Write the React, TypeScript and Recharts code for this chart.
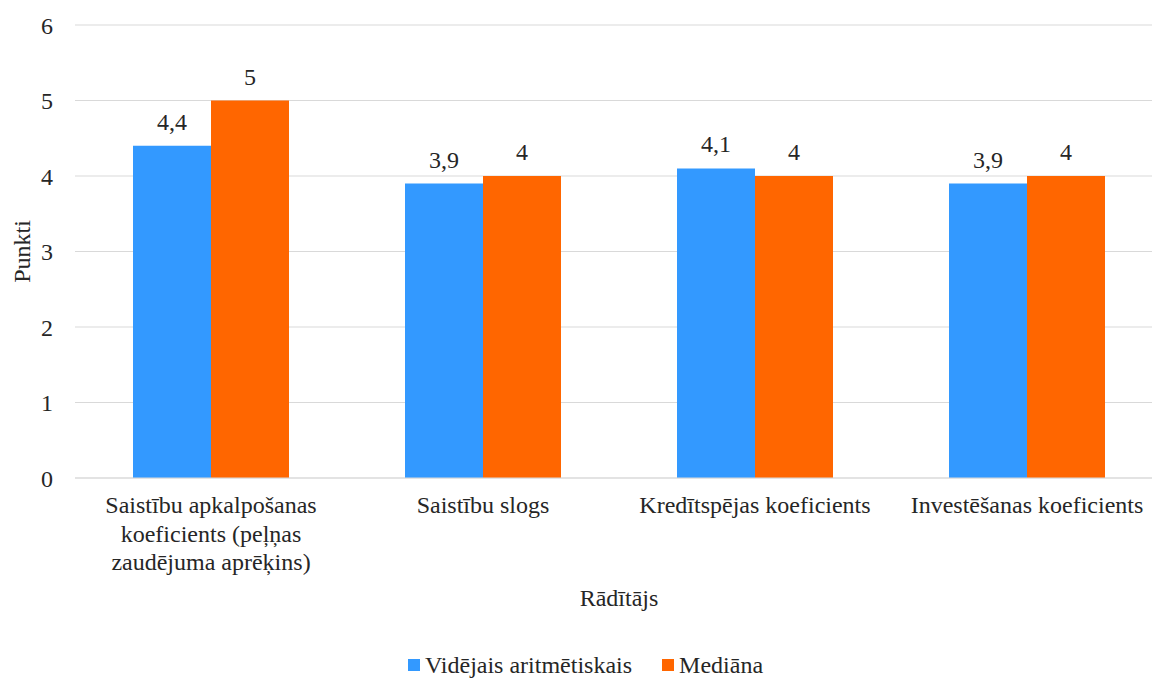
import React from "react";
import { BarChart, Bar, XAxis, YAxis, CartesianGrid, Legend, LabelList, Label } from "recharts";

const categories = [
  "Saistību apkalpošanas koeficients (peļņas zaudējuma aprēķins)",
  "Saistību slogs",
  "Kredītspējas koeficients",
  "Investēšanas koeficients",
];
// Wrapped lines for each category label on the axis
const categoryLines = [
  ["Saistību apkalpošanas", "koeficients (peļņas", "zaudējuma aprēķins)"],
  ["Saistību slogs"],
  ["Kredītspējas koeficients"],
  ["Investēšanas koeficients"],
];
const meanValues = [4.4, 3.9, 4.1, 3.9];
const medianValues = [5, 4, 4, 4];
const yTicks = [0, 1, 2, 3, 4, 5, 6];

const SERIES = [
  { key: "mean", name: "Vidējais aritmētiskais", color: "#3399FF" },
  { key: "median", name: "Mediāna", color: "#FF6600" },
];

const data = categories.map((c, i) => ({ category: c, mean: meanValues[i], median: medianValues[i] }));

const FONT = "'Liberation Serif', 'Times New Roman', Tinos, serif";
const FS = 24;
const TEXT = "#262626";

const fmt = (v: any) => String(v).replace(".", ",");

const CategoryTick = (props: any) => {
  const { x, y, payload, index } = props;
  const idx = categories.indexOf(payload.value);
  const lines = categoryLines[idx >= 0 ? idx : index] || [payload.value];
  return (
    <text x={x} y={y + 27} textAnchor="middle" fill={TEXT} fontFamily={FONT} fontSize={FS}>
      {lines.map((l: string, i: number) => (
        <tspan key={i} x={x} dy={i === 0 ? 0 : 28.5}>
          {l}
        </tspan>
      ))}
    </text>
  );
};

const LegendContent = () => (
  <div
    style={{
      display: "flex",
      justifyContent: "center",
      alignItems: "center",
      height: 26,
      fontFamily: FONT,
      fontSize: FS,
      color: TEXT,
      gap: 30,
      paddingLeft: 8,
    }}
  >
    {SERIES.map((s) => (
      <div key={s.key} style={{ display: "flex", alignItems: "center" }}>
        <span style={{ display: "inline-block", width: 12, height: 12, background: s.color, marginRight: 5 }} />
        <span>{s.name}</span>
      </div>
    ))}
  </div>
);

export default function App() {
  return (
    <div style={{ position: "absolute", left: 0, top: 0, width: 1152, height: 678, overflow: "hidden", background: "#fff", fontFamily: FONT }}>
      <BarChart
        width={1163}
        height={678}
        data={data}
        margin={{ top: 25, right: 0, bottom: 0, left: 0 }}
        barGap={0}
        style={{ fontFamily: FONT }}
      >
        <CartesianGrid vertical={false} stroke="#d9d9d9" strokeWidth={1.2} />
        <XAxis
          dataKey="category"
          height={174}
          axisLine={{ stroke: "#d9d9d9", strokeWidth: 1.2 }}
          tickLine={false}
          tick={<CategoryTick />}
          interval={0}
        >
          <Label
            value="Rādītājs"
            position="insideBottom"
            offset={46}
            fontFamily={FONT}
            fontSize={FS}
            fill={TEXT}
          />
        </XAxis>
        <YAxis
          width={75}
          domain={[0, 6]}
          ticks={yTicks}
          axisLine={false}
          tickLine={false}
          tickMargin={16}
          tick={{ fontFamily: FONT, fontSize: FS, fill: TEXT }}
        >
          <Label
            value="Punkti"
            angle={-90}
            position="center"
            dx={-16}
            fontFamily={FONT}
            fontSize={FS}
            fill={TEXT}
          />
        </YAxis>
        <Legend verticalAlign="bottom" height={26} content={<LegendContent />} />
        {SERIES.map((s) => (
          <Bar key={s.key} dataKey={s.key} name={s.name} fill={s.color} barSize={78} isAnimationActive={false}>
            <LabelList
              dataKey={s.key}
              position="top"
              offset={16}
              formatter={fmt}
              fontFamily={FONT}
              fontSize={FS}
              fill={TEXT}
            />
          </Bar>
        ))}
      </BarChart>
    </div>
  );
}
